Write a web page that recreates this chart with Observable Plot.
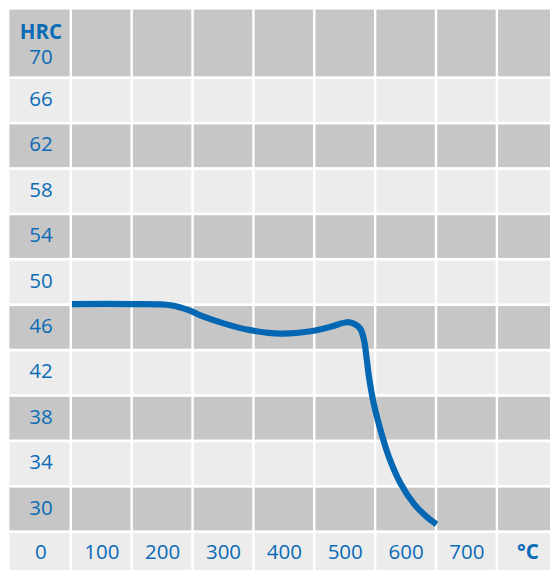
<!DOCTYPE html>
<html>
<head>
<meta charset="utf-8">
<script src="https://cdn.jsdelivr.net/npm/d3@7"></script>
<script src="https://cdn.jsdelivr.net/npm/@observablehq/plot@0.6"></script>
<style>
  html, body { margin: 0; padding: 0; background: #ffffff; overflow: hidden; }
  #chart svg { display: block; }
</style>
</head>
<body>
<div id="chart"></div>
<script>
// ---- data ----
const yUnit = "HRC";
const xUnit = "°C";
const yTicks = [70, 66, 62, 58, 54, 50, 46, 42, 38, 34, 30];
const xTicks = [0, 100, 200, 300, 400, 500, 600, 700];
const temperature = [51, 147, 213, 246, 262, 300, 344, 394, 443, 476, 503, 517, 525, 531, 535, 539, 547, 558, 572, 591, 613, 635, 650];
const hardness    = [48.1, 48.1, 48.0, 47.5, 47.1, 46.4, 45.8, 45.5, 45.7, 46.1, 46.5, 46.3, 45.9, 44.9, 43.4, 41.7, 39.3, 37.0, 34.6, 32.3, 30.5, 29.3, 28.7];

// ---- layout helpers ----
const step = yTicks[0] - yTicks[1];          // 4 HRC per row
const colStep = xTicks[1] - xTicks[0];       // 100 °C per column
const unitCol = xTicks[xTicks.length - 1] + colStep; // column holding "°C"
const bottomRow = yTicks[yTicks.length - 1] - step;  // row holding x labels
const halfRow = step / 2 - 0.12;
const halfCol = colStep / 2 - 2;

const rows = [...yTicks, bottomRow];
const cols = [...xTicks, unitCol];
const cells = [];
rows.forEach((r, i) => {
  cols.forEach((c, j) => {
    let y1 = r - halfRow, y2 = r + halfRow;
    if (i === 0) y2 = r + 4.0;                 // taller top row (room for unit)
    if (i === rows.length - 1) y1 = r - 4;     // bottom row runs to edge
    let x1 = c - halfCol, x2 = c + halfCol;
    if (j === 0) x1 = c - 51;
    cells.push({x1, x2, y1, y2, dark: i % 2 === 0});
  });
});

const curve = temperature.map((t, i) => ({t, h: hardness[i]}));
const blue = "#0b6bb6";
const font = "'Open Sans', 'Noto Sans', sans-serif";
const fs = 20.5;

const chart = Plot.plot({
  width: 550,
  height: 570,
  marginTop: 0, marginRight: 0, marginBottom: 0, marginLeft: 0,
  x: {domain: [0, unitCol], range: [40.4, 527.3], axis: null},
  y: {domain: [30, 70], range: [509, 55], axis: null},
  style: {background: "#ffffff", fontFamily: font},
  marks: [
    Plot.rect(cells.filter(d => d.dark), {x1: "x1", x2: "x2", y1: "y1", y2: "y2", fill: "#c6c6c6", clip: true}),
    Plot.rect(cells.filter(d => !d.dark), {x1: "x1", x2: "x2", y1: "y1", y2: "y2", fill: "#ececec", clip: true}),
    Plot.line(curve, {x: "t", y: "h", stroke: "#0467b3", strokeWidth: 6.2, curve: "catmull-rom", strokeLinecap: "butt", strokeLinejoin: "round"}),
    Plot.text(yTicks.slice(1), {x: xTicks[0], y: d => d, dy: -1.5, text: d => String(d), fill: blue, fontSize: fs}),
    Plot.text(yTicks.slice(0, 1), {x: xTicks[0], y: d => d, dy: 2, text: d => String(d), fill: blue, fontSize: fs}),
    Plot.text([yUnit], {x: xTicks[0], y: yTicks[0] + 2.0, dy: -0.5, text: d => d, fill: blue, fontSize: fs, fontWeight: "bold"}),
    Plot.text(xTicks, {x: d => d, y: bottomRow + 0.2, text: d => String(d), fill: blue, fontSize: fs}),
    Plot.text([xUnit], {x: unitCol, y: bottomRow + 0.2, text: d => d, fill: blue, fontSize: fs, fontWeight: "bold"})
  ]
});
document.getElementById("chart").appendChild(chart);
</script>
</body>
</html>
